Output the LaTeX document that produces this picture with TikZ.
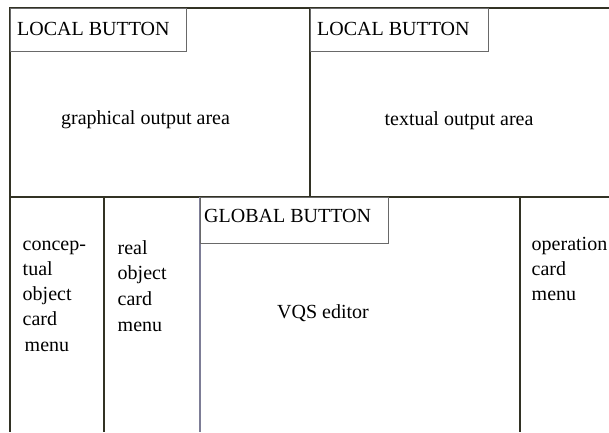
\documentclass[tikz,border=0pt]{standalone}
\usepackage{fontspec}
\setmainfont{Liberation Serif}
\usepackage{xcolor}
\usetikzlibrary{positioning}
\definecolor{frameline}{RGB}{50,50,36}
\definecolor{editorline}{RGB}{125,125,150}
\definecolor{buttonline}{RGB}{105,105,105}

\begin{document}
\begin{tikzpicture}[x=1pt, y=-1pt,
    frame/.style={draw=frameline, line width=1.3pt},
    button/.style={draw=buttonline, line width=0.9pt},
    label/.style={font=\fontsize{20}{24.7}\selectfont, inner sep=0pt},
    menutext/.style={label, align=left, anchor=base west}]
  \useasboundingbox (0,0) rectangle (609,432);
  % window frame
  \draw[frame] (609,8) -- (10,8) -- (10,432);
  \draw[frame] (10,197) -- (609,197);
  \draw[frame] (310,8) -- (310,197);
  \draw[frame] (104,197) -- (104,432);
  \draw[frame, draw=editorline] (200,197) -- (200,432);
  \draw[frame] (520,197) -- (520,432);
  % buttons
  \draw[button] (10,8) rectangle (186,51);
  \draw[button] (310,8) rectangle (488,51);
  \draw[button] (200,197) rectangle (388,243);
  \node[label, anchor=base west] (localgraph) at (17,35) {LOCAL BUTTON};
  \node[label, anchor=base west] (localtext) at (317,35) {LOCAL BUTTON};
  \node[label, anchor=base west] (globalbtn) at (204,222) {GLOBAL BUTTON};
  % output areas and editor
  \node[label, anchor=base] (graphout) at (145.5,124.5) {graphical output area};
  \node[label, anchor=base] (textout) at (459,125) {textual output area};
  \node[label, anchor=base] (vqs) at (323,318) {VQS editor};
  % card menus, placed by the baseline of their last line
  \node[menutext] (concmenu) at (22.5,351.7)
    {concep-\\tual\\object\\card\\[2pt]\hspace{2pt}menu};
  \node[menutext] (realmenu) at (117.5,331.7)
    {real\\object\\[1pt]card\\[2pt]menu};
  \node[menutext] (opmenu) at (531.5,300) {operation\\card\\menu};
\end{tikzpicture}
\end{document}
